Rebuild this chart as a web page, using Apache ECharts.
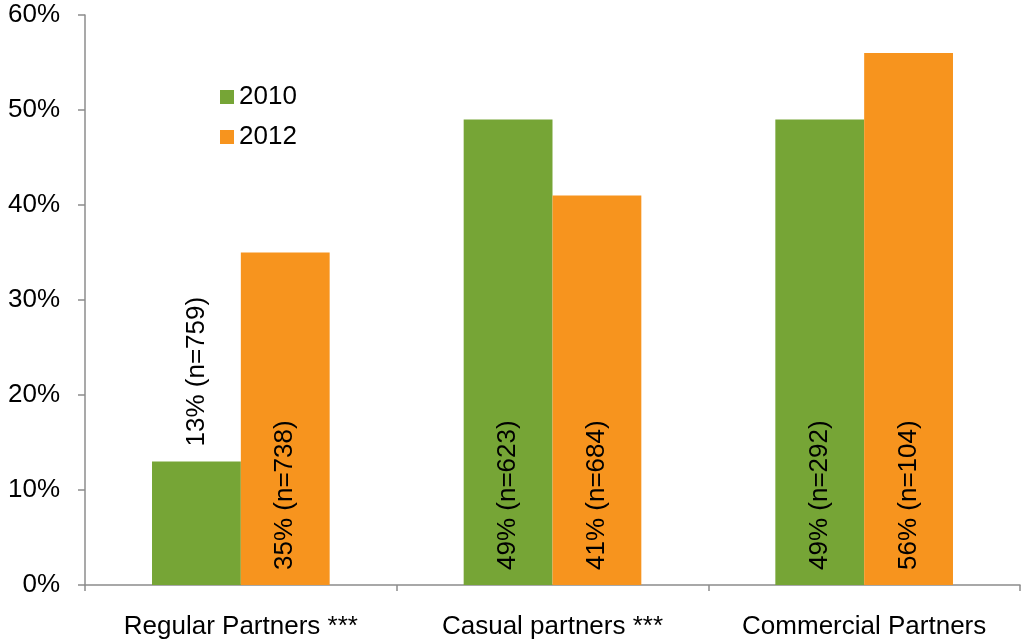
<!DOCTYPE html>
<html>
<head>
<meta charset="utf-8">
<script src="https://cdn.jsdelivr.net/npm/echarts@6/dist/echarts.min.js"></script>
<style>
  html, body { margin: 0; padding: 0; background: #fff; }
  #chart { width: 1024px; height: 644px; }
</style>
</head>
<body>
<div id="chart"></div>
<script>
// Partner categories along the x axis
var categories = ['Regular Partners ***', 'Casual partners ***', 'Commercial Partners'];
// Survey years
var seriesNames = ['2010', '2012'];
// Percentages per category
var values2010 = [13, 49, 49];
var values2012 = [35, 41, 56];
// Sample sizes per category
var n2010 = [759, 623, 292];
var n2012 = [738, 684, 104];

var FONT = 'Liberation Sans, Arial, sans-serif';
var AXIS_GREY = '#8c8c8c';
var FS = 26;

function labelFor(values, ns) {
  return values.map(function (v, i) {
    var small = v < 20;
    return {
      value: v,
      label: {
        show: true,
        position: small ? 'top' : 'insideBottom',
        distance: 15,
        rotate: 90,
        align: 'left',
        verticalAlign: 'middle',
        formatter: v + '% (n=' + ns[i] + ')',
        fontFamily: FONT,
        fontSize: FS,
        color: '#000'
      }
    };
  });
}

var chart = echarts.init(document.getElementById('chart'), null, { renderer: 'canvas' });
chart.setOption({
  animation: false,
  backgroundColor: '#fff',
  grid: { left: 85, right: 4, top: 15, bottom: 59, containLabel: false },
  legend: {
    orient: 'vertical',
    left: 215,
    top: 79,
    itemWidth: 14,
    itemHeight: 14,
    itemGap: 14,
    icon: 'rect',
    textStyle: { fontFamily: FONT, fontSize: FS, color: '#000' },
    data: seriesNames
  },
  xAxis: {
    type: 'category',
    data: categories,
    axisLine: { lineStyle: { color: AXIS_GREY, width: 1.5 } },
    axisTick: { show: true, length: 6, lineStyle: { color: AXIS_GREY, width: 1.5 } },
    axisLabel: { fontFamily: FONT, fontSize: FS, color: '#000', margin: 29, interval: 0 }
  },
  yAxis: {
    type: 'value',
    min: 0,
    max: 60,
    interval: 10,
    splitLine: { show: false },
    axisLine: { show: true, lineStyle: { color: AXIS_GREY, width: 1.5 } },
    axisTick: { show: true, length: 7, lineStyle: { color: AXIS_GREY, width: 1.5 } },
    axisLabel: { fontFamily: FONT, fontSize: FS, color: '#000', margin: 25, formatter: '{value}%' }
  },
  series: [
    {
      name: seriesNames[0],
      type: 'bar',
      data: labelFor(values2010, n2010),
      itemStyle: { color: '#76A536' },
      barGap: '0%',
      barCategoryGap: '43%'
    },
    {
      name: seriesNames[1],
      type: 'bar',
      data: labelFor(values2012, n2012),
      itemStyle: { color: '#F7941E' },
      barGap: '0%',
      barCategoryGap: '43%'
    }
  ]
});
</script>
</body>
</html>
